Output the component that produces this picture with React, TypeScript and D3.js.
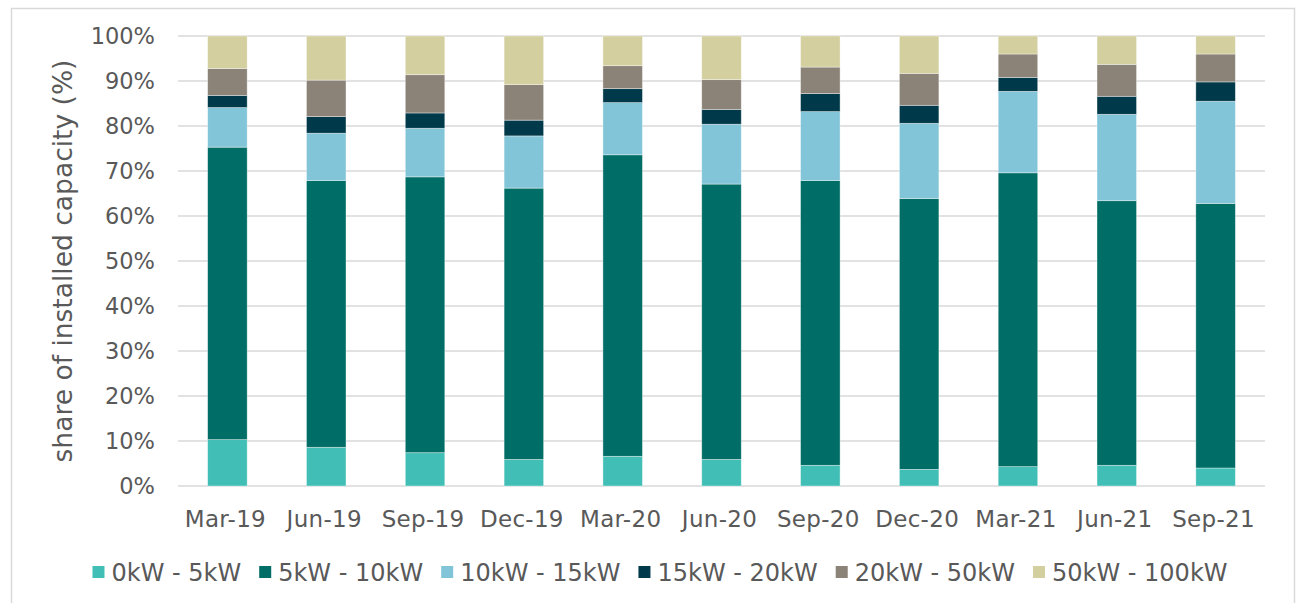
import React, { useEffect, useRef } from "react";
import * as d3 from "d3";

const categories = ["Mar-19", "Jun-19", "Sep-19", "Dec-19", "Mar-20", "Jun-20", "Sep-20", "Dec-20", "Mar-21", "Jun-21", "Sep-21"];
const seriesNames = ["0kW - 5kW", "5kW - 10kW", "10kW - 15kW", "15kW - 20kW", "20kW - 50kW", "50kW - 100kW"];
const s0to5 = [10.3, 8.6, 7.4, 5.9, 6.6, 5.9, 4.6, 3.7, 4.3, 4.6, 4.0];
const s5to10 = [65.0, 59.3, 61.3, 60.3, 67.0, 61.2, 63.3, 60.2, 65.3, 58.8, 58.8];
const s10to15 = [8.8, 10.5, 10.8, 11.6, 11.6, 13.3, 15.3, 16.7, 18.1, 19.2, 22.7];
const s15to20 = [2.7, 3.7, 3.4, 3.5, 3.1, 3.3, 4.0, 4.0, 3.1, 4.0, 4.3];
const s20to50 = [6.0, 8.1, 8.5, 7.9, 5.1, 6.6, 5.9, 7.1, 5.2, 7.1, 6.2];
const s50to100 = [7.2, 9.8, 8.6, 10.8, 6.6, 9.7, 6.9, 8.3, 4.0, 6.3, 4.0];
const yTicks = [0, 10, 20, 30, 40, 50, 60, 70, 80, 90, 100];
const colors = ["#41BFB6", "#006D66", "#83C5D8", "#003A4A", "#8B8378", "#D3CF9E"];

const FONT = "'DejaVu Sans', Verdana, sans-serif";

export default function App() {
  const ref = useRef<SVGSVGElement>(null);
  useEffect(() => {
    const svg = d3.select(ref.current);
    svg.selectAll("*").remove();
    const left = 178, right = 1265, top = 36, bottom = 486;

    svg.append("rect").attr("x", 11.5).attr("y", 8.5).attr("width", 1283).attr("height", 620)
      .attr("fill", "#fff").attr("stroke", "#D9D9D9").attr("stroke-width", 1.5);

    const series = [s0to5, s5to10, s10to15, s15to20, s20to50, s50to100];
    const rows = categories.map((c, i) => {
      const r: any = { cat: c };
      seriesNames.forEach((n, k) => (r[n] = series[k][i]));
      return r;
    });
    const stacked = d3.stack().keys(seriesNames)(rows);

    const x = d3.scaleBand().domain(categories).range([left, right]).paddingInner(0.6).paddingOuter(0.3);
    const y = d3.scaleLinear().domain([0, 100]).range([bottom, top]);

    const grid = svg.append("g");
    yTicks.forEach((t) => {
      grid.append("line").attr("x1", left).attr("x2", right).attr("y1", y(t)).attr("y2", y(t))
        .attr("stroke", "#D9D9D9").attr("stroke-width", 1.5);
      svg.append("text").attr("x", 155).attr("y", y(t)).attr("dy", "0.36em").attr("text-anchor", "end")
        .attr("font-family", FONT).attr("font-size", 22.5).attr("fill", "#595959").text(`${t}%`);
    });

    stacked.forEach((layer, k) => {
      svg.append("g").selectAll("rect").data(layer).enter().append("rect")
        .attr("x", (d: any) => x(d.data.cat)!)
        .attr("width", x.bandwidth())
        .attr("y", (d: any) => y(d[1]))
        .attr("height", (d: any) => y(d[0]) - y(d[1]))
        .attr("fill", colors[k])
        .attr("stroke", "#ffffff").attr("stroke-opacity", 0.5).attr("stroke-width", 0.75);
    });

    categories.forEach((c) => {
      svg.append("text").attr("x", x(c)! + x.bandwidth() / 2 - 2).attr("y", 527).attr("text-anchor", "middle")
        .attr("font-family", FONT).attr("font-size", 23).attr("letter-spacing", 0.3).attr("fill", "#595959").text(c);
    });

    svg.append("text").attr("transform", `translate(72, ${(top + bottom) / 2}) rotate(-90)`)
      .attr("text-anchor", "middle").attr("font-family", FONT).attr("font-size", 26.5).attr("fill", "#595959")
      .text("share of installed capacity (%)");

    // legend
    const lg = svg.append("g");
    const items: { g: any; w: number }[] = [];
    seriesNames.forEach((n, k) => {
      const g = lg.append("g");
      g.append("rect").attr("x", 0).attr("y", -6).attr("width", 12).attr("height", 12).attr("fill", colors[k]);
      const t = g.append("text").attr("x", 19).attr("y", 0).attr("dy", "0.36em").attr("font-family", FONT)
        .attr("font-size", 24).attr("fill", "#595959").text(n);
      const tw = (t.node() as SVGTextElement).getComputedTextLength();
      items.push({ g, w: 19 + tw });
    });
    const gap = 18;
    const total = items.reduce((a, b) => a + b.w, 0) + gap * (items.length - 1);
    let cx = 660 - total / 2;
    items.forEach((it) => {
      it.g.attr("transform", `translate(${cx}, 572)`);
      cx += it.w + gap;
    });
  }, []);
  return (
    <svg ref={ref} width={1300} height={603} style={{ position: "absolute", left: 0, top: 0, background: "#fff" }} />
  );
}
